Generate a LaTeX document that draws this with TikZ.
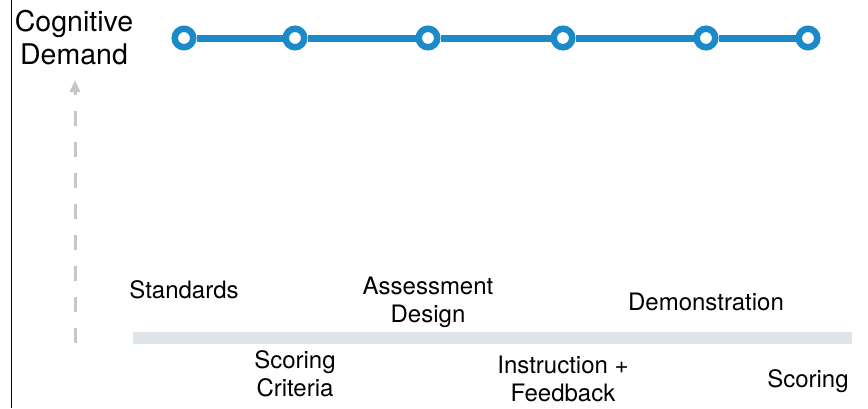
\documentclass[tikz,border=0pt]{standalone}
\usepackage{fontspec}
\setmainfont{TeX Gyre Heros}
\usetikzlibrary{arrows.meta, positioning}

\definecolor{lineblue}{HTML}{1A8AC8}
\definecolor{barlight}{HTML}{DFE3EA}
\definecolor{axisgray}{HTML}{C6C6C6}

\tikzset{
    stop/.style={circle, draw=lineblue, fill=white, line width=6.5pt,
        minimum size=18.5pt, inner sep=0pt},
    stagetext/.style={align=center, inner sep=0pt,
        font=\fontsize{24}{28}\selectfont},
}

\begin{document}
\begin{tikzpicture}[x=1pt, y=-1pt]
    \useasboundingbox (0, 0) rectangle (868, 408);

    % left edge
    \draw[line width=1.5pt] (11.5, 0) -- (11.5, 408);

    % axis title and dashed arrow
    \node[align=center, inner sep=0pt, font=\fontsize{28.5}{33}\selectfont]
        (demand) at (74, 38) {Cognitive\\Demand};
    \coordinate (axisbot) at (75, 343);
    \coordinate (axistop) at (75, 80);
    \draw[axisgray, line width=3pt, dash pattern=on 15pt off 16pt,
        -{Triangle[width=10pt, length=12pt]}] (axisbot) -- (axistop);

    % timeline
    \fill[barlight] (133, 332) rectangle (852, 344);

    % stops along the top
    \foreach \x [count=\i] in {184, 295, 428, 563, 706, 808} {
        \node[stop] (s\i) at (\x, 38) {};
    }
    \foreach \i [count=\j from 2] in {1, ..., 5} {
        \draw[lineblue, line width=7pt] (s\i) -- (s\j);
    }

    % stage names, above and below the bar
    \node[stagetext] (std) at (s1 |- 0, 290) {Standards};
    \node[stagetext] (crit) at (s2 |- 0, 374) {Scoring\\Criteria};
    \node[stagetext] (design) at (s3 |- 0, 302) {Assessment\\Design};
    \node[stagetext] (instr) at (s4 |- 0, 379) {Instruction +\\Feedback};
    \node[stagetext] (demo) at (s5 |- 0, 302) {Demonstration};
    \node[stagetext] (score) at (s6 |- 0, 381) {Scoring};
\end{tikzpicture}
\end{document}
